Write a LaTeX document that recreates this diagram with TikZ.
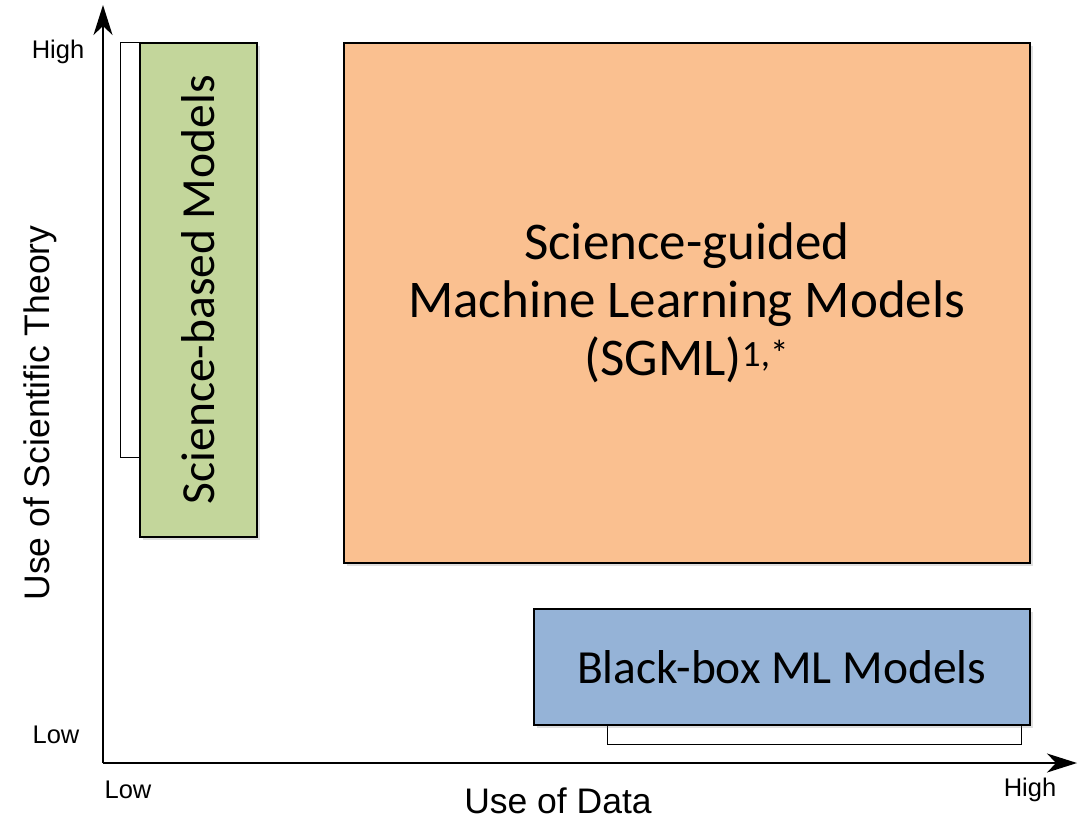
\documentclass[tikz,border=0pt]{standalone}
\usepackage{fontspec}
\setmainfont{Carlito}
\newfontfamily\axisfont{Liberation Sans}
\usetikzlibrary{arrows.meta,shadows}

\definecolor{sbgreen}{HTML}{C3D69B}
\definecolor{sgorange}{HTML}{FAC090}
\definecolor{bbblue}{HTML}{95B3D7}

\tikzset{
  modelbox/.style={draw,line width=1.5pt,inner sep=0pt,anchor=north west,
    drop shadow={opacity=0.25,shadow xshift=3pt,shadow yshift=-3pt}},
  bracketbox/.style={draw,fill=white,line width=1.3pt,inner sep=0pt,anchor=north west},
  modeltext/.style={inner sep=0pt,font=\fontsize{47.5}{57}\selectfont},
  ticktext/.style={inner sep=0pt,font=\axisfont\fontsize{25.5}{30}\selectfont},
  axistext/.style={inner sep=0pt,font=\axisfont\fontsize{35.5}{42}\selectfont},
  axisline/.style={line width=1.5pt,-{Stealth[length=30pt,width=19pt,inset=9pt]}}
}

\begin{document}
\begin{tikzpicture}[x=1pt,y=-1pt]
\useasboundingbox (0,0) rectangle (1084,820);

\coordinate (origin) at (103,763);
\coordinate (xend) at (1077,763);
\coordinate (yend) at (103,5);

\draw[axisline] (origin) -- (xend);
\draw[axisline] (origin) -- (yend);

\path (58,52) node[ticktext](yhigh){High} (56,735) node[ticktext](ylow){Low}
      (128,790) node[ticktext](xlow){Low} (1030,790) node[ticktext](xhigh){High};
\node[axistext] (datalabel) at (558,801) {Use of Data};
\node[axistext,rotate=90] (theorylabel) at (40,413) {Use of Scientific Theory};

% brackets behind the boxes
\node[bracketbox,minimum width=19pt,minimum height=415pt] (sbbracket) at (120,42) {};
\node[bracketbox,minimum width=414pt,minimum height=20pt] (bbbracket) at (607,724) {};

% model boxes
\node[modelbox,fill=sbgreen,minimum width=117pt,minimum height=494pt] (sbm) at (139,42) {};
\node[modelbox,fill=sgorange,minimum width=686pt,minimum height=520pt] (sgml) at (343,42) {};
\node[modelbox,fill=bbblue,minimum width=496pt,minimum height=116pt] (bbml) at (533,608) {};

\node[modeltext,rotate=90] (sbmtext) at (sbm.center) {Science-based Models};
\node[modeltext,align=center,font=\fontsize{53}{58}\selectfont] (sgmltext) at (sgml.center)
  {Science-guided\\Machine Learning Models\\(SGML)\textsuperscript{1,*}};
\node[modeltext] (bbmltext) at (bbml.center) {Black-box ML Models};
\end{tikzpicture}
\end{document}
